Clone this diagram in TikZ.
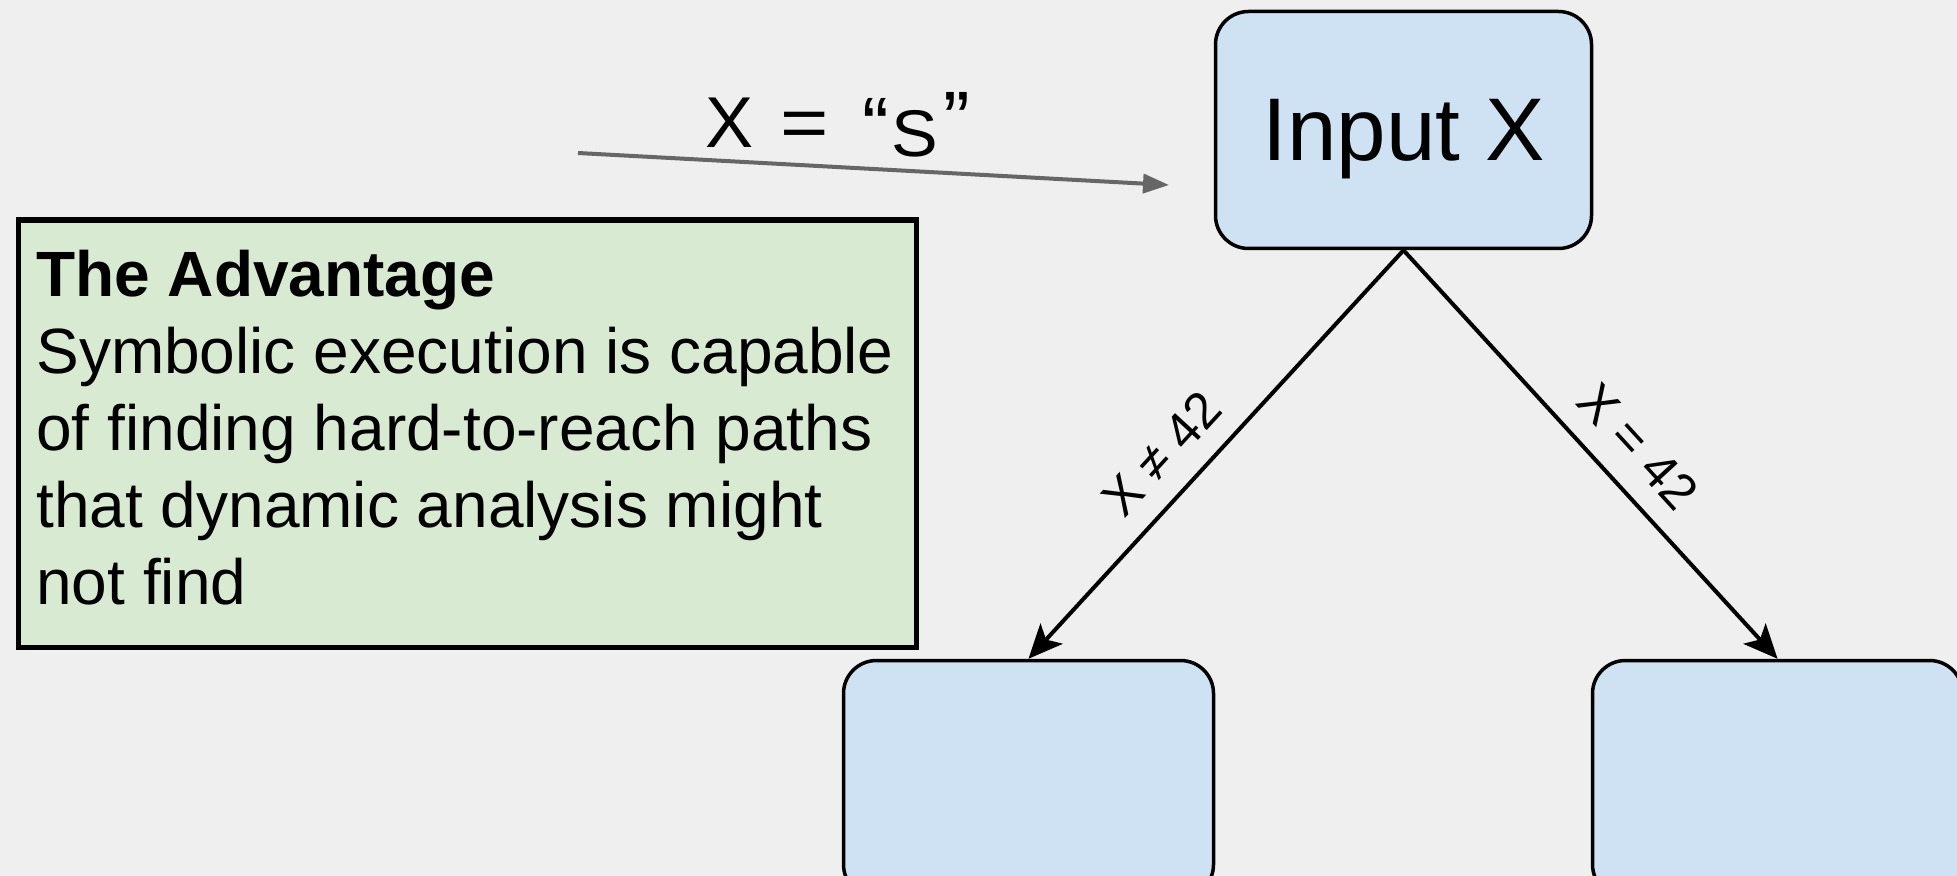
\documentclass[tikz,border=0pt]{standalone}
\usepackage{fontspec}
\setmainfont{Liberation Sans}
\usetikzlibrary{arrows.meta}
\definecolor{bgcol}{HTML}{EFEFEF}
\definecolor{boxblue}{HTML}{CFE2F3}
\definecolor{notegreen}{HTML}{D9EAD3}
\definecolor{pointergray}{HTML}{666666}
\begin{document}
\begin{tikzpicture}[x=0.5pt, y=-0.5pt,
  statebox/.style={draw=black, line width=1.75pt, fill=boxblue,
    rounded corners=16.5pt, minimum width=188pt, minimum height=118.5pt,
    inner sep=0pt, text depth=0pt},
  childbox/.style={statebox, minimum width=185pt},
  branch/.style={draw=black, line width=2pt,
    -{Stealth[length=17pt,width=15pt,inset=4pt]}},
  cond/.style={sloped, above=10pt, inner sep=0pt,
    font=\fontsize{25.5pt}{29pt}\selectfont},
  notebox/.style={draw=black, line width=2.75pt, fill=notegreen,
    minimum width=449pt, minimum height=213.5pt, inner sep=0pt},
  pointer/.style={draw=pointergray, line width=2pt,
    -{Triangle[length=13pt,width=9.5pt]}},
]
% canvas
\fill[bgcol] (0,0) rectangle (1957,876);
\useasboundingbox (0,0) rectangle (1957,876);

% decision tree
\node[statebox, font=\fontsize{44.5pt}{50pt}\selectfont] (input) at (1403.5,130) {Input X};
\node[childbox] (left) at (1028.5,779) {};
\node[childbox] (right) at (1777.5,779) {};

\draw[branch] (input.south) -- node[cond, pos=0.565] {\smash{X ≠ 42}} (left.north);
\draw[branch] (input.south) -- node[cond, pos=0.547] {\smash{X = 42}} (right.north);

% concrete input pointing at the root
\coordinate (ptrstart) at (578,153);
\coordinate (ptrend) at (1169,185);
\draw[pointer] (ptrstart) -- (ptrend);
\node[anchor=base west, inner sep=0pt] (assign) at (705,148)
  {\fontsize{36pt}{40pt}\selectfont
   \makebox[0pt][l]{X}\hspace*{37.6pt}%
   \makebox[0pt][l]{\scalebox{1.15}[1]{=}}\hspace*{41pt}%
   \makebox[0pt][l]{\raisebox{-3pt}{\fontsize{40pt}{44pt}\selectfont “}}\hspace*{14.6pt}%
   \makebox[0pt][l]{\raisebox{-4.5pt}{\fontsize{33pt}{37pt}\selectfont\scalebox{1.06}[1]{S}}}\hspace*{25.8pt}%
   \makebox[0pt][l]{\fontsize{40pt}{44pt}\selectfont ”}\hspace*{14pt}};

% explanation note
\node[notebox, anchor=north west] (note) at (15.5,217.5) {};
\node[anchor=base west, inner sep=0pt] (notetext) at (36,297)
  {\parbox[t]{440pt}{\fontsize{32pt}{38.5pt}\selectfont
   \textbf{The Advantage}\\
   Symbolic execution is capable\\
   of finding hard-to-reach paths\\
   that dynamic analysis might\\
   not find}};
\end{tikzpicture}
\end{document}
